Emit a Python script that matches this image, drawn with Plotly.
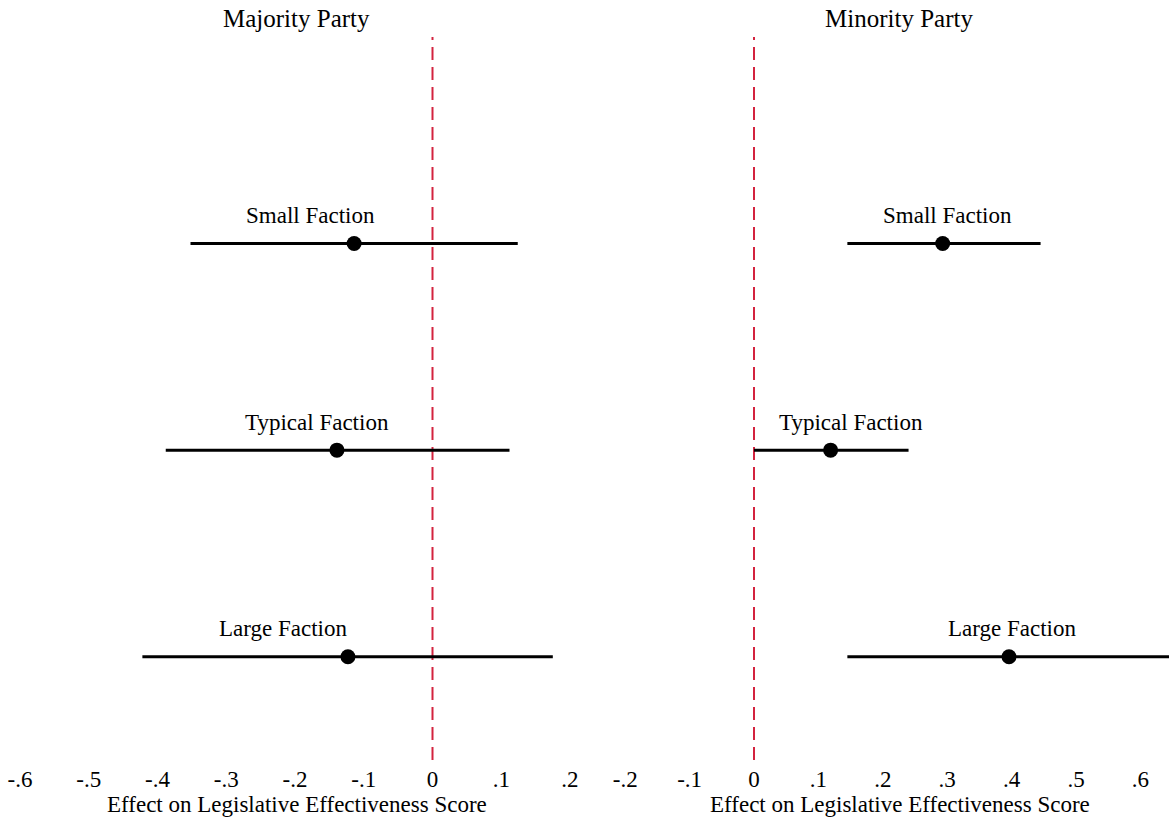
import plotly.graph_objects as go

# Point estimates and 95% confidence bounds by faction size
factions = ["Small Faction", "Typical Faction", "Large Faction"]
rows = [3, 2, 1]

majority_est = [-0.114, -0.139, -0.123]
majority_lo = [-0.352, -0.388, -0.422]
majority_hi = [0.124, 0.112, 0.175]

minority_est = [0.293, 0.119, 0.396]
minority_lo = [0.145, 0.000, 0.145]
minority_hi = [0.445, 0.240, 0.700]

panel_titles = ["Majority Party", "Minority Party"]
tick_vals_major = [-0.6, -0.5, -0.4, -0.3, -0.2, -0.1, 0, 0.1, 0.2]
tick_text_major = ["-.6", "-.5", "-.4", "-.3", "-.2", "-.1", "0", ".1", ".2"]
tick_vals_minor = [-0.2, -0.1, 0, 0.1, 0.2, 0.3, 0.4, 0.5, 0.6]
tick_text_minor = ["-.2", "-.1", "0", ".1", ".2", ".3", ".4", ".5", ".6"]
axis_title = "Effect on Legislative Effectiveness Score"

# Horizontal placement of the faction labels (data units on each panel)
label_x_major = [-0.178, -0.168, -0.218]
label_x_minor = [0.301, 0.151, 0.401]

FONT = "Liberation Serif, Times New Roman, serif"
W, H = 1169, 819

fig = go.Figure()


def add_panel(est, lo, hi, xa, ya):
    xs, ys = [], []
    for e_lo, e_hi, r in zip(lo, hi, rows):
        xs += [e_lo, e_hi, None]
        ys += [r, r, None]
    fig.add_trace(go.Scatter(x=xs, y=ys, mode="lines",
                             line=dict(color="black", width=3),
                             xaxis=xa, yaxis=ya, hoverinfo="skip",
                             showlegend=False))
    fig.add_trace(go.Scatter(x=est, y=rows, mode="markers",
                             marker=dict(color="black", size=15),
                             xaxis=xa, yaxis=ya, showlegend=False))


add_panel(majority_est, majority_lo, majority_hi, "x", "y")
add_panel(minority_est, minority_lo, minority_hi, "x2", "y2")

# Reference line at zero in both panels
for xr, yr in (("x", "y"), ("x2", "y2")):
    fig.add_shape(type="line", xref=xr, yref=yr, x0=0, x1=0, y0=0.5, y1=4.0,
                  line=dict(color="#d3233f", width=2, dash="13px,7px"),
                  layer="below")

y_range = [0.5, 4.0]
y_dom = [1 - 760 / H, 1 - 37 / H]

common_x = dict(showgrid=False, zeroline=False, showline=False, ticks="",
                tickfont=dict(family=FONT, size=23, color="black"),
                ticklabelstandoff=3)
common_y = dict(range=y_range, domain=y_dom, visible=False, showgrid=False,
                zeroline=False)

fig.update_layout(
    width=W, height=H,
    margin=dict(l=0, r=0, t=0, b=0),
    paper_bgcolor="white", plot_bgcolor="white",
    font=dict(family=FONT, color="black"),
    xaxis=dict(domain=[0, 0.5], range=[-0.6291, 0.2211],
               tickvals=tick_vals_major, ticktext=tick_text_major,
               anchor="y", **common_x),
    xaxis2=dict(domain=[0.51, 1.0], range=[-0.2450, 0.6444],
                tickvals=tick_vals_minor, ticktext=tick_text_minor,
                anchor="y2", **common_x),
    yaxis=dict(anchor="x", **common_y),
    yaxis2=dict(anchor="x2", **common_y),
)

# Faction labels above each estimate
for xr, yr, lx in (("x", "y", label_x_major), ("x2", "y2", label_x_minor)):
    for name, r, x in zip(factions, rows, lx):
        fig.add_annotation(x=x, y=r + 0.135, xref=xr, yref=yr, text=name,
                           showarrow=False, xanchor="center", yanchor="middle",
                           font=dict(family=FONT, size=23, color="black"))

# Panel titles and axis titles
for title, px in zip(panel_titles, [296, 899]):
    fig.add_annotation(x=px / W, y=1 - 18 / H, xref="paper", yref="paper",
                       text=title, showarrow=False, xanchor="center",
                       yanchor="middle",
                       font=dict(family=FONT, size=25, color="black"))
for px in [297, 900]:
    fig.add_annotation(x=px / W, y=1 - 804 / H, xref="paper", yref="paper",
                       text=axis_title, showarrow=False, xanchor="center",
                       yanchor="middle",
                       font=dict(family=FONT, size=23, color="black"))

fig.write_html("out.html")
